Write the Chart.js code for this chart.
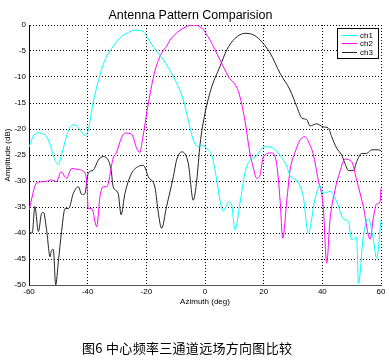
<!DOCTYPE html>
<html><head><meta charset="utf-8">
<script src="https://cdn.jsdelivr.net/npm/chart.js@4"></script>
<style>
html,body{margin:0;padding:0;background:#fff;}
#wrap{position:relative;width:390px;height:360px;overflow:hidden;}
#c{position:absolute;left:0;top:0;}
#cap{position:absolute;left:82px;top:339px;font-family:"Noto Sans CJK SC";font-size:13px;line-height:18px;letter-spacing:0.3px;color:#000;white-space:pre;}
</style></head><body>
<div id="wrap"><canvas id="c" width="390" height="360"></canvas><div id="cap">图6 中心频率三通道远场方向图比较</div></div>
<script>
const seriesNames = ['ch1','ch2','ch3'];
const xTicks = [-60,-40,-20,0,20,40,60];
const yTicks = [0,-5,-10,-15,-20,-25,-30,-35,-40,-45,-50];

const ch1Az  = [-60,-58.5,-57,-55.5,-54,-52.5,-51.8,-50,-48.9,-47,-45.5,-44.3,-42.5,-40.9,-39.8,-38.6,-36.9,-34.1,-31.8,-28.4,-26,-23.9,-21,-19.9,-17.6,-14.2,-10.8,-7.4,-5.7,-4,-2.3,-1.1,0.6,2.3,4,5.1,6.2,8,9.1,10.2,11.9,13.6,15.3,17,20.5,23.3,26.1,27.9,29,31.3,33.5,35.2,37.5,39.2,40.3,42.6,44.9,47.2,48.9,50,51.7,52.3,54,55.7,57.4,58.5,60];
const ch1Amp = [-23.5,-21.3,-20.7,-20.9,-21.5,-23.5,-25,-26.8,-25,-21,-19.3,-19.2,-20.3,-21.2,-20.2,-16.3,-11.9,-6.7,-4.5,-2.2,-1.4,-1.0,-1.3,-2.2,-4.2,-6.7,-9.9,-14.4,-18.3,-22.1,-23.4,-23.1,-23.8,-25,-29.8,-33.7,-35.8,-34,-34.6,-39.4,-34.3,-28.5,-26,-25.4,-23.4,-23.7,-25.5,-27.2,-29,-30,-33,-40,-33.5,-30.9,-32.4,-32,-34,-37.3,-37.8,-41.3,-40.8,-49.7,-40.5,-37.2,-41.3,-44.9,-37.5];

const ch2Az  = [-60,-57.4,-54.6,-52.3,-50.6,-49.1,-47.2,-45.5,-43.2,-40.9,-40.3,-39.8,-38.6,-36.9,-35.8,-34.7,-33.5,-31.3,-30.1,-28.7,-27.3,-25,-23.3,-22.2,-21.3,-19.3,-17,-14.8,-13,-11.9,-8.5,-4,-1.1,1.7,5.1,8,11.4,13.6,15.3,16.5,17.6,18.8,19.9,22.7,24.4,25.6,26.5,27.9,29,30.7,32.4,34.1,35.8,36.9,38.6,40.3,41.5,42.6,44.3,46,47.7,50,51.7,54,56.3,57.4,58.5,59.7,60];
const ch2Amp = [-35.6,-30.4,-30.1,-29.8,-30.1,-28.2,-29.5,-27.6,-27.8,-28.5,-30.4,-35.3,-35.3,-38.8,-33,-31.1,-31.1,-25.6,-24.4,-22,-20.8,-21,-23.7,-24.5,-22,-15,-8.7,-5.4,-4,-2.9,-1,0,-0.6,-2.9,-6.7,-9.9,-12.8,-18.3,-24.6,-27.5,-29.5,-28.8,-25.3,-24.6,-26.6,-33.7,-41,-33.7,-27.9,-24.5,-22.1,-21.5,-23.1,-24.8,-29.8,-34.9,-45.8,-37.5,-31.8,-28.2,-25.8,-26.3,-29.8,-35,-41.2,-37,-34.4,-34,-31.4];

const ch3Az  = [-60,-58.9,-58,-56.8,-55.7,-55.1,-54,-52.8,-52.3,-51.7,-50.9,-50,-48.9,-47.7,-46.5,-44.9,-43.2,-42,-40.9,-40.3,-39.8,-38.1,-36.4,-34.7,-33,-32,-31.3,-29.6,-28.6,-27.3,-25,-22.7,-21,-19.3,-17,-15.9,-14.8,-13.1,-10.8,-9.7,-7.9,-5.7,-4,-2.8,-1.7,0,2.3,5.1,7.4,10.2,13.6,16.5,18.8,22.2,25.6,29,31.3,33,34.7,35.8,38.1,40.3,42,43.2,44.9,46.6,47.7,48.9,50.6,51.7,53.4,55.1,56.8,59.1,60];
const ch3Amp = [-39.7,-40,-34.9,-39.7,-36.2,-36,-39.4,-44.6,-43.3,-43.2,-50,-45.6,-39.7,-35.3,-35.3,-32.4,-31.1,-32.6,-32.4,-30.1,-28.5,-27.9,-26,-25.3,-26,-27.9,-31.1,-32.4,-36.5,-32.4,-28.5,-27.2,-27,-29.2,-31.4,-36.2,-39.1,-34.9,-29.2,-26,-24.4,-26.6,-33.7,-29.8,-23,-17,-11.9,-8,-4.8,-2.6,-1.6,-1.9,-2.9,-5.4,-9.3,-12.5,-15.7,-17.9,-18.2,-19.4,-19,-19.6,-19.8,-21.5,-23.7,-25,-26.6,-28,-28,-26.3,-24.7,-24.7,-24,-24,-24.2];

const seriesAz = [ch1Az, ch2Az, ch3Az];
const seriesAmp = [ch1Amp, ch2Amp, ch3Amp];
const seriesColors = ['#00FFFF','#FF00FF','#222222'];

const FONT = 'Liberation Sans, Arial, sans-serif';

const datasets = seriesNames.map((n,i)=>({
  label: n,
  data: seriesAz[i].map((x,j)=>({x:x, y:seriesAmp[i][j]})),
  borderColor: seriesColors[i],
  backgroundColor: seriesColors[i],
  borderWidth: 1,
  pointRadius: 0,
  fill: false,
  cubicInterpolationMode: 'monotone'
}));

const boxLegend = {
  id: 'boxLegend',
  afterDraw(chart){
    const {ctx, chartArea} = chart;
    const w = 41, h = 30;
    const x = Math.round(chartArea.right - 3 - w), y = Math.round(chartArea.top + 3);
    ctx.save();
    ctx.fillStyle = '#fff';
    ctx.fillRect(x, y, w, h);
    ctx.strokeStyle = '#000';
    ctx.lineWidth = 1;
    ctx.strokeRect(x + 0.5, y + 0.5, w, h);
    ctx.font = '8px ' + FONT;
    ctx.textBaseline = 'middle';
    ctx.textAlign = 'left';
    chart.data.datasets.forEach((ds, i) => {
      const yy = Math.round(y + 7 + i * 8.3) + 0.5;
      ctx.strokeStyle = ds.borderColor;
      ctx.beginPath();
      ctx.moveTo(x + 5, yy);
      ctx.lineTo(x + 20, yy);
      ctx.stroke();
      ctx.fillStyle = '#000';
      ctx.fillText(ds.label, x + 23, yy);
    });
    ctx.restore();
  }
};

new Chart(document.getElementById('c'), {
  type: 'line',
  data: { datasets },
  plugins: [boxLegend],
  options: {
    responsive: false,
    animation: false,
    layout: { padding: { left: 0, right: 9, top: 0, bottom: 53 } },
    plugins: {
      legend: { display: false },
      tooltip: { enabled: false },
      title: {
        display: true,
        text: 'Antenna Pattern Comparision',
        color: '#000',
        font: { family: FONT, size: 12.5, weight: 'normal' },
        padding: { top: 8, bottom: 2 }
      }
    },
    scales: {
      x: {
        type: 'linear',
        min: -60, max: 60,
        afterBuildTicks: s => { s.ticks = xTicks.map(v => ({ value: v })); },
        afterFit: s => { s.height = 22; },
        ticks: { color: '#000', font: { family: FONT, size: 8 }, padding: 2, maxRotation: 0, autoSkip: false },
        grid: { color: '#000', lineWidth: 1, drawTicks: false },
        border: { display: true, color: '#555', width: 1, dash: [1, 2] },
        title: { display: true, text: 'Azimuth (deg)', color: '#000', font: { family: FONT, size: 8 }, padding: { top: 0, bottom: 0 } }
      },
      y: {
        type: 'linear',
        min: -50, max: 0,
        afterBuildTicks: s => { s.ticks = yTicks.map(v => ({ value: v })); },
        afterFit: s => { s.width = 29; },
        ticks: { color: '#000', font: { family: FONT, size: 8 }, padding: 3, autoSkip: false },
        grid: { color: '#000', lineWidth: 1, drawTicks: false },
        border: { display: true, color: '#000', width: 1, dash: [1, 2] },
        title: { display: true, text: 'Amplitude (dB)', color: '#000', font: { family: FONT, size: 8 }, padding: { top: 3, bottom: 0 } }
      }
    }
  }
});
</script>
</body></html>
